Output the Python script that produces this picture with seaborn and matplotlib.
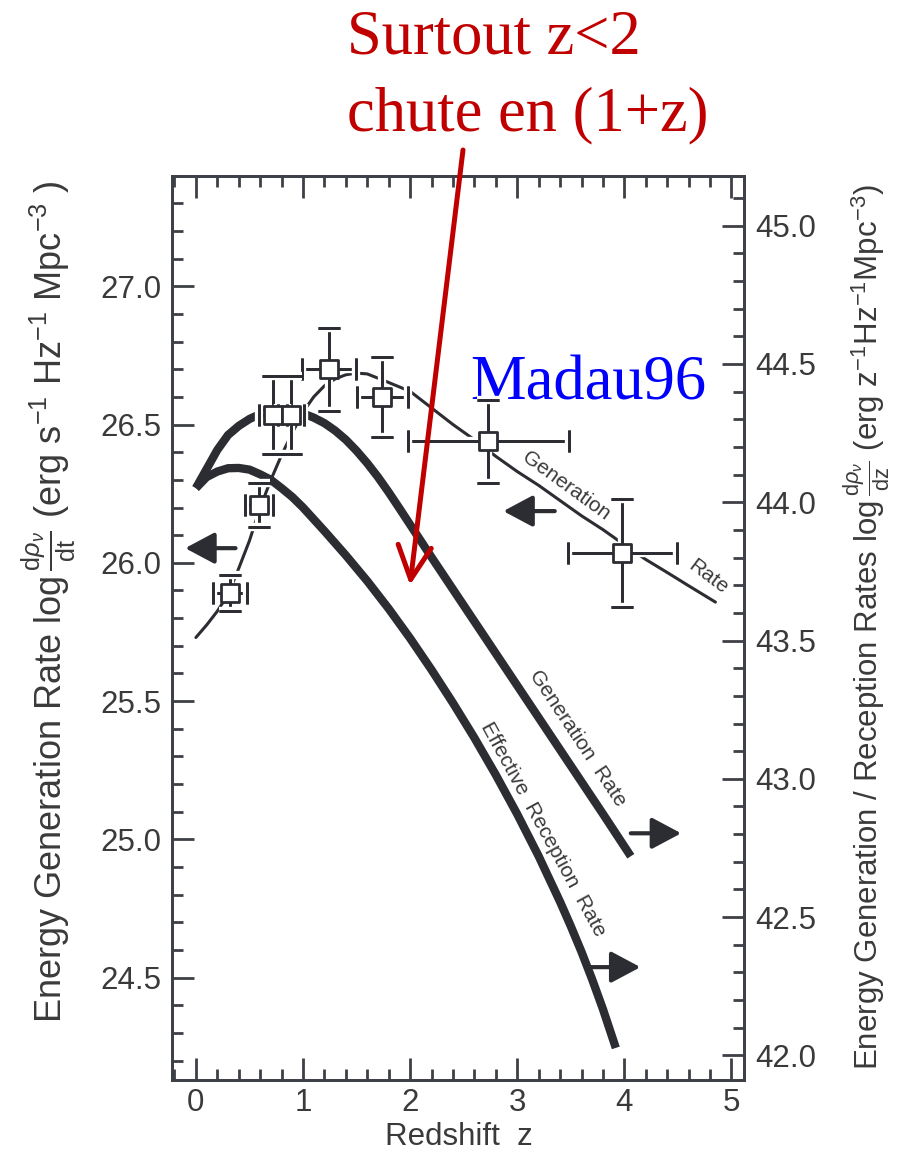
import matplotlib
matplotlib.use("Agg")
import matplotlib.pyplot as plt
import matplotlib.patheffects as pe
from matplotlib import font_manager
from matplotlib.ticker import MultipleLocator, FormatStrFormatter
import seaborn as sns

# %% values
# Madau96 points, left axis (log d rho / dt)
pt_z = [0.32, 0.59, 0.72, 0.89, 1.24, 1.74, 2.73, 3.98]
pt_y = [25.89, 26.21, 26.535, 26.535, 26.70, 26.60, 26.44, 26.035]
pt_zerr = [0.16, 0.13, 0.13, 0.12, 0.25, 0.24, 0.75, 0.51]
pt_yerr = [0.065, 0.08, 0.14, 0.14, 0.15, 0.145, 0.15, 0.195]

# thin curve: generation rate per unit time, left axis
thin_z = [0.0, 0.1, 0.2, 0.3, 0.4, 0.5, 0.6, 0.7, 0.8, 0.9, 1.0, 1.1, 1.2, 1.3,
          1.4, 1.5, 1.6, 1.75, 2.0, 2.2, 2.4, 2.6, 2.8, 3.0, 3.2, 3.4, 3.6, 3.8,
          4.0, 4.2, 4.4, 4.6, 4.85]
thin_y = [25.73, 25.775, 25.825, 25.885, 25.98, 26.08, 26.20, 26.30, 26.39, 26.47,
          26.545, 26.60, 26.64, 26.665, 26.68, 26.686, 26.683, 26.66, 26.62, 26.56,
          26.50, 26.445, 26.385, 26.33, 26.28, 26.225, 26.17, 26.12, 26.065, 26.012,
          25.965, 25.917, 25.858]

# thick curves, right axis (log d rho / dz)
gen_z = [0.0, 0.1, 0.2, 0.3, 0.4, 0.5, 0.6, 0.7, 0.8, 0.9, 1.0, 1.1, 1.2, 1.3,
         1.4, 1.5, 1.6, 1.7, 1.8, 1.9, 2.0, 2.1, 2.2, 2.4, 2.6, 2.8, 3.0, 3.2,
         3.4, 3.6, 3.8, 4.06]
gen_y = [44.051, 44.12, 44.189, 44.243, 44.276, 44.301, 44.319, 44.329, 44.331,
         44.329, 44.321, 44.306, 44.286, 44.259, 44.226, 44.186, 44.141, 44.091,
         44.036, 43.978, 43.919, 43.86, 43.801, 43.685, 43.569, 43.453, 43.337,
         43.221, 43.105, 42.989, 42.873, 42.72]

rec_z = [0.0, 0.1, 0.2, 0.3, 0.4, 0.5, 0.6, 0.7, 0.8, 0.9, 1.0, 1.2, 1.4, 1.6,
         1.8, 2.0, 2.2, 2.4, 2.6, 2.8, 3.0, 3.2, 3.4, 3.5, 3.6, 3.7, 3.8, 3.92]
rec_y = [44.051, 44.091, 44.111, 44.123, 44.124, 44.118, 44.101, 44.081, 44.051,
         44.019, 43.981, 43.896, 43.808, 43.715, 43.615, 43.508, 43.394, 43.274,
         43.148, 43.014, 42.872, 42.720, 42.555, 42.467, 42.374, 42.274, 42.167,
         42.027]

# %% style
sns.set_style("ticks")
names = {f.name for f in font_manager.fontManager.ttflist}
narrow = "Liberation Sans Narrow" if "Liberation Sans Narrow" in names else "Liberation Sans"
plt.rcParams["font.family"] = ["Liberation Sans", "DejaVu Sans"]
plt.rcParams["mathtext.fontset"] = "custom"
plt.rcParams["mathtext.rm"] = narrow
plt.rcParams["mathtext.it"] = narrow + ":italic"
plt.rcParams["mathtext.bf"] = narrow + ":bold"

ink = "#2b2d32"
txt = "#3a3a3a"
red = "#c00000"

fig = plt.figure(figsize=(8.98, 11.51), dpi=100)
ax = fig.add_axes([0.1919, 0.0617, 0.6370, 0.7857])
ax2 = ax.twinx()
ax.set_zorder(ax2.get_zorder() + 1)
ax.patch.set_visible(False)

# thick curves on the right axis
sns.lineplot(x=gen_z, y=gen_y, ax=ax2, color=ink, linewidth=6, sort=False,
             solid_capstyle="butt", solid_joinstyle="round")
sns.lineplot(x=rec_z, y=rec_y, ax=ax2, color=ink, linewidth=6, sort=False,
             solid_capstyle="butt", solid_joinstyle="round")

# thin curve + points on the left axis
sns.lineplot(x=thin_z, y=thin_y, ax=ax, color=ink, linewidth=2.2, sort=False, zorder=3)
halo = [pe.withStroke(linewidth=6, foreground="white"), pe.Normal()]
eb = ax.errorbar(pt_z, pt_y, xerr=pt_zerr, yerr=pt_yerr, fmt="none", ecolor=ink,
                 elinewidth=2, capsize=8, capthick=2, zorder=4)
for art in list(eb.lines[1]) + list(eb.lines[2]):
    art.set_path_effects(halo)
sns.scatterplot(x=pt_z, y=pt_y, ax=ax, marker="s", s=150, color="white",
                edgecolor=ink, linewidth=2, zorder=5, legend=False)

# axes limits and ticks
ax.set_xlim(-0.22, 5.12)
ax.set_ylim(24.13, 27.40)
ax2.set_ylim(24.13 + 17.781, 27.40 + 17.781)

ax.xaxis.set_major_locator(MultipleLocator(1))
ax.xaxis.set_minor_locator(MultipleLocator(0.2))
ax.yaxis.set_major_locator(MultipleLocator(0.5))
ax.yaxis.set_minor_locator(MultipleLocator(0.1))
ax.yaxis.set_major_formatter(FormatStrFormatter("%.1f"))
ax2.yaxis.set_major_locator(MultipleLocator(0.5))
ax2.yaxis.set_minor_locator(MultipleLocator(0.1))
ax2.yaxis.set_major_formatter(FormatStrFormatter("%.1f"))

for a in (ax, ax2):
    a.tick_params(which="both", direction="in", width=2, color="#3d4046",
                  labelcolor=txt, labelsize=22.5)
    a.tick_params(which="major", length=16)
    a.tick_params(which="minor", length=8)
    for s in a.spines.values():
        s.set_linewidth(2)
        s.set_color("#3d4046")
ax.tick_params(which="both", top=True, right=False)
ax.tick_params(axis="y", pad=8)
ax.tick_params(axis="x", pad=6)
ax2.tick_params(axis="y", pad=8)

ax.set_xlabel("Redshift  z", fontsize=22.5, color=txt, labelpad=3)
ax.set_ylabel("Energy Generation Rate log" + r"$\,\frac{\mathrm{d}\rho_\nu}{\mathrm{dt}}$"
              + r" (erg s$^{-1}$ Hz$^{-1}$ Mpc$^{-3}$ )",
              fontsize=26, color=txt, fontfamily=narrow)
ax.yaxis.set_label_coords(-0.165, 0.529)
ax2.set_ylabel("Energy Generation / Reception Rates log"
               + r"$\,\frac{\mathrm{d}\rho_\nu}{\mathrm{dz}}$"
               + r" (erg z$^{-1}$Hz$^{-1}$Mpc$^{-3}$)",
               fontsize=22.5, color=txt, fontfamily=narrow)
ax2.yaxis.set_label_coords(1.170, 0.501)

# curve labels
lab = dict(fontsize=15, color=txt, ha="center", va="center", rotation_mode="anchor")
ax.text(3.46, 26.277, "Generation", rotation=-36, **lab)
ax.text(4.78, 25.949, "Rate", rotation=-37, **lab)
ax2.text(3.56, 43.147, "Generation  Rate", rotation=-56.4, **lab)
ax2.text(3.24, 42.818, "Effective  Reception  Rate", rotation=-61.4, **lab)

# direction arrows (which axis each curve belongs to)
head = dict(arrowstyle="-|>,head_length=0.9,head_width=0.48", mutation_scale=20,
            lw=3, color=ink, shrinkA=0, shrinkB=0)
for tip, tail in [((-0.10, 26.053), (0.37, 26.053)), ((2.87, 26.187), (3.35, 26.187))]:
    ax.annotate("", xy=tip, xytext=tail, arrowprops=head)
for tip, tail in [((4.53, 42.803), (4.06, 42.803)), ((4.15, 42.319), (3.68, 42.319))]:
    ax2.annotate("", xy=tip, xytext=tail, arrowprops=head)

# overlay notes
ax.text(2.56, 26.589, "Madau96", fontsize=45, color="#0000ff",
        fontfamily="Liberation Serif", va="baseline", ha="left")
fig.text(347 / 898, 1 - 53 / 1151, "Surtout z<2", fontsize=45, color=red,
         fontfamily="Liberation Serif", va="baseline", ha="left")
fig.text(347 / 898, 1 - 130 / 1151, "chute en (1+z)", fontsize=45, color=red,
         fontfamily="Liberation Serif", va="baseline", ha="left")
ax.annotate("", xy=(410 / 898, 1 - 585 / 1151), xycoords="figure fraction",
            xytext=(463 / 898, 1 - 150 / 1151), textcoords="figure fraction",
            arrowprops=dict(arrowstyle="->,head_length=1.2,head_width=0.6",
                            mutation_scale=20, lw=3.6, color=red, shrinkA=0, shrinkB=0),
            annotation_clip=False, zorder=10)

fig.savefig("out.png", dpi=100)
